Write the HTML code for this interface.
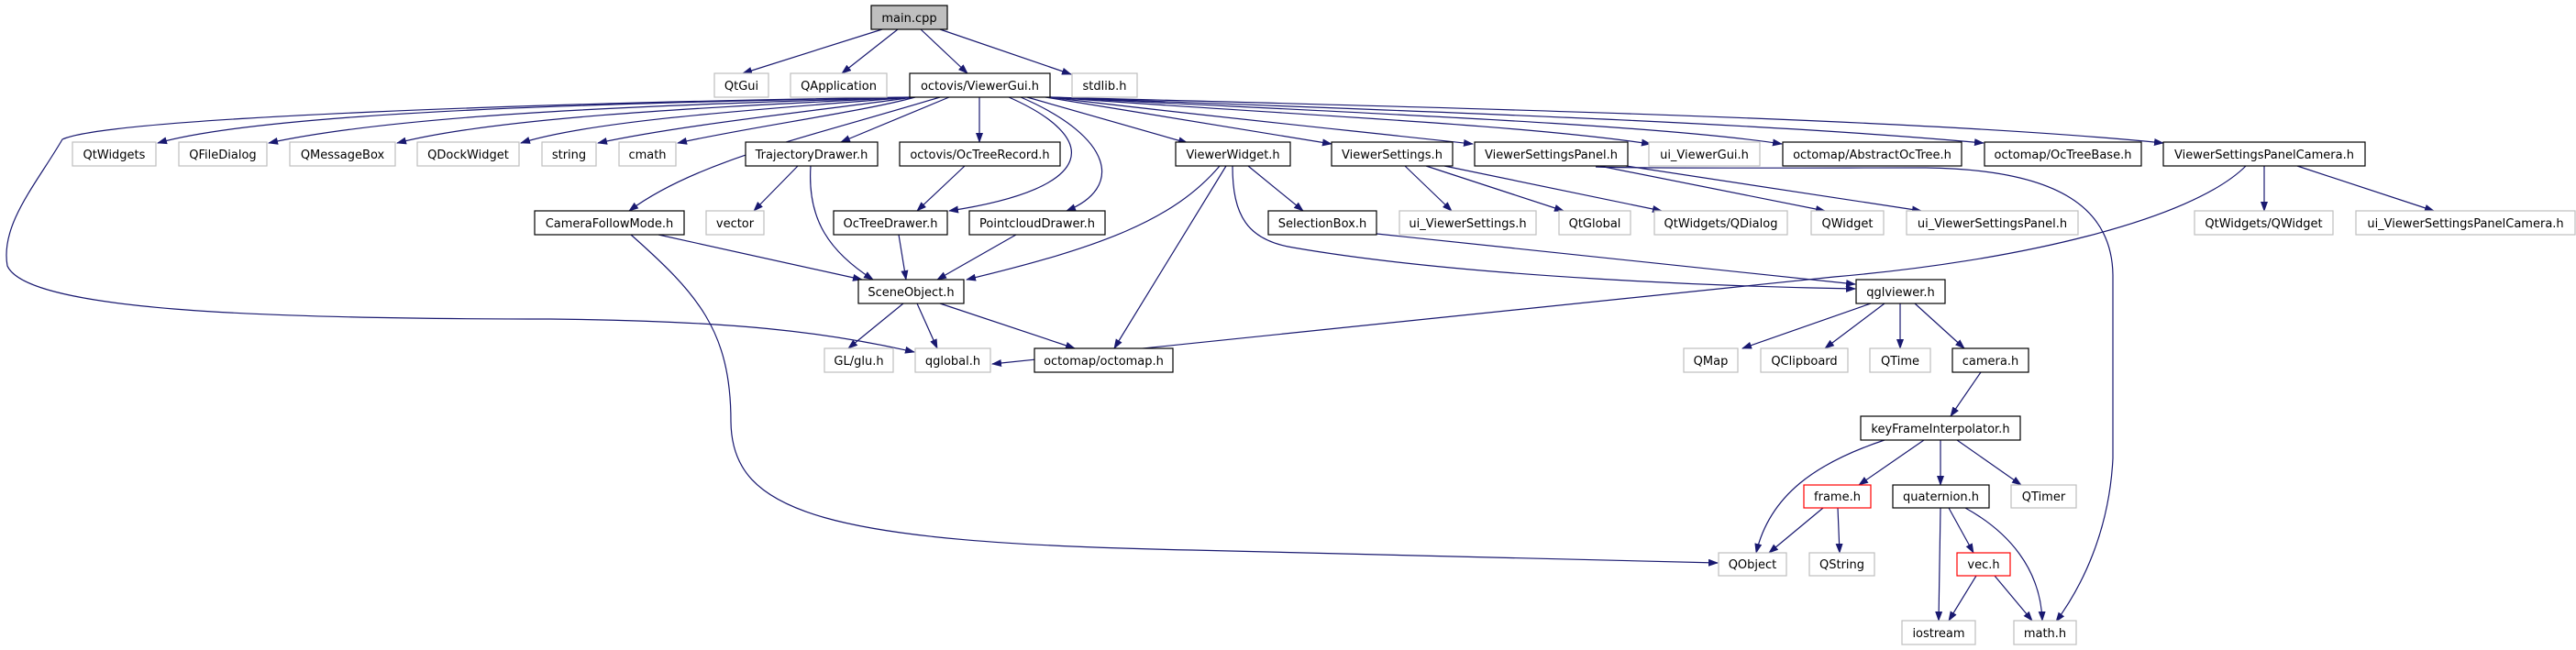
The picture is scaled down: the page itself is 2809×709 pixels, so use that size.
<!DOCTYPE html>
<html><head><meta charset="utf-8"><style>
html,body{margin:0;padding:0;background:#fff;}
svg{display:block;}
text{font-family:"DejaVu Sans","Liberation Sans",sans-serif;font-size:13px;fill:#000;text-anchor:middle;}
.b{fill:#fff;stroke:#000;stroke-width:1.2;}
.g{fill:#fff;stroke:#bfbfbf;stroke-width:1.2;}
.r{fill:#fff;stroke:#ff0000;stroke-width:1.2;}
.m{fill:#bfbfbf;stroke:#000;stroke-width:1.2;}
path{fill:none;stroke:#191970;stroke-width:1.2;marker-end:url(#a);}
</style></head><body>
<svg width="2809" height="709" viewBox="0 0 2809 709" xmlns="http://www.w3.org/2000/svg">
<defs><marker id="a" markerWidth="11" markerHeight="8" refX="10" refY="4" orient="auto" markerUnits="userSpaceOnUse"><polygon points="0,0 11,4 0,8" fill="#191970"/></marker></defs>
<!-- edges -->
<path d="M962,32 L810,80"/>
<path d="M979,32 L918,80"/>
<path d="M1004,32 L1055,80"/>
<path d="M1025,32 L1168,81"/>
<!-- ViewerGui to row2 left -->
<path d="M994,106 C700,112 300,120 172,156"/>
<path d="M994,106 C750,114 450,122 293,156"/>
<path d="M994,106 C800,116 550,126 433,156"/>
<path d="M994,106 C850,118 650,130 568,156"/>
<path d="M996,106 C900,120 750,135 652,156"/>
<path d="M998,106 C940,122 820,138 739,156"/>
<path d="M1035,106 L917,155"/>
<path d="M1068,106 L1068,155"/>
<path d="M1025,106 C880,150 760,175 686,230"/>
<path d="M1100,106 C1200,150 1200,205 1035,230"/>
<path d="M1113,106 C1215,150 1225,205 1163,230"/>
<path d="M1120,106 L1295,156"/>
<path d="M1140,106 L1452,157"/>
<path d="M1144,106 C1300,125 1450,140 1606,157"/>
<path d="M1145,106 C1400,125 1650,135 1800,157"/>
<path d="M1145,106 C1450,122 1800,135 1943,157"/>
<path d="M1145,106 C1500,120 1900,132 2163,156"/>
<path d="M1145,106 C1600,118 2100,130 2359,156"/>
<!-- qglobal long curve -->
<path d="M992,106 C600,112 120,128 68,152 C40,200 0,245 8,290 C30,340 300,348 600,348 C800,350 900,362 997,384"/>
<!-- row2 out -->
<path d="M870,181 L822,230"/>
<path d="M884,181 C880,240 905,275 952,305"/>
<path d="M1052,181 L1000,230"/>
<path d="M718,256 L940,305"/>
<path d="M688,256 C760,320 797,360 797,460 C798,560 900,592 1300,600 L1873,614"/>
<path d="M980,256 L988,305"/>
<path d="M1108,256 L1022,305"/>
<path d="M1330,181 C1280,240 1200,270 1054,305"/>
<path d="M1337,181 L1215,380"/>
<path d="M1344,181 C1344,235 1360,262 1410,270 C1600,303 1900,313 2023,315"/>
<path d="M1361,181 L1421,230"/>
<path d="M1501,255 L2023,310"/>
<path d="M1532,181 L1583,230"/>
<path d="M1555,181 L1705,230"/>
<path d="M1575,181 L1812,230"/>
<path d="M1744,181 L1990,230"/>
<path d="M1773,181 L2095,230"/>
<path d="M1740,182 C1780,184 2000,183 2100,183 C2250,185 2303,230 2304,300 L2304,500 C2300,580 2270,640 2242,678"/>
<path d="M2449,181 C2390,240 2200,285 2000,302 L1082,397"/>
<path d="M2469,181 L2469,230"/>
<path d="M2505,181 L2654,230"/>
<!-- SceneObject -->
<path d="M985,331 L925,380"/>
<path d="M1000,331 L1022,380"/>
<path d="M1025,331 L1172,380"/>
<!-- qglviewer -->
<path d="M2040,331 L1900,380"/>
<path d="M2055,331 L1990,380"/>
<path d="M2072,331 L2072,380"/>
<path d="M2088,331 L2142,380"/>
<path d="M2160,406 L2127,454"/>
<path d="M2055,480 C1980,505 1930,540 1915,603"/>
<path d="M2098,480 L2027,529"/>
<path d="M2116,480 L2116,529"/>
<path d="M2134,480 L2204,529"/>
<path d="M1988,554 L1929,603"/>
<path d="M2004,554 L2006,603"/>
<path d="M2116,554 L2114,677"/>
<path d="M2125,554 L2152,603"/>
<path d="M2143,554 C2190,580 2225,620 2227,677"/>
<path d="M2155,628 L2125,677"/>
<path d="M2175,628 L2216,677"/>
<!-- nodes -->
<rect class="m" x="950" y="6" width="83" height="26"/><text x="991.5" y="24">main.cpp</text>
<rect class="g" x="779" y="80" width="59" height="26"/><text x="808.5" y="98">QtGui</text>
<rect class="g" x="862" y="80" width="105" height="26"/><text x="914.5" y="98">QApplication</text>
<rect class="b" x="992" y="80" width="153" height="26"/><text x="1068.5" y="98">octovis/ViewerGui.h</text>
<rect class="g" x="1169" y="80" width="71" height="26"/><text x="1204.5" y="98">stdlib.h</text>

<rect class="g" x="79" y="155" width="91" height="26"/><text x="124.5" y="173">QtWidgets</text>
<rect class="g" x="195" y="155" width="96" height="26"/><text x="243" y="173">QFileDialog</text>
<rect class="g" x="316" y="155" width="115" height="26"/><text x="373.5" y="173">QMessageBox</text>
<rect class="g" x="455" y="155" width="111" height="26"/><text x="510.5" y="173">QDockWidget</text>
<rect class="g" x="591" y="155" width="59" height="26"/><text x="620.5" y="173">string</text>
<rect class="g" x="675" y="155" width="62" height="26"/><text x="706" y="173">cmath</text>
<rect class="b" x="813" y="155" width="144" height="26"/><text x="885" y="173">TrajectoryDrawer.h</text>
<rect class="b" x="981" y="155" width="175" height="26"/><text x="1068.5" y="173">octovis/OcTreeRecord.h</text>
<rect class="b" x="1282" y="155" width="125" height="26"/><text x="1344.5" y="173">ViewerWidget.h</text>
<rect class="b" x="1452" y="155" width="132" height="26"/><text x="1518" y="173">ViewerSettings.h</text>
<rect class="b" x="1608" y="155" width="167" height="26"/><text x="1691.5" y="173">ViewerSettingsPanel.h</text>
<rect class="g" x="1798" y="155" width="121" height="26"/><text x="1858.5" y="173">ui_ViewerGui.h</text>
<rect class="b" x="1944" y="155" width="195" height="26"/><text x="2041.5" y="173">octomap/AbstractOcTree.h</text>
<rect class="b" x="2164" y="155" width="171" height="26"/><text x="2249.5" y="173">octomap/OcTreeBase.h</text>
<rect class="b" x="2359" y="155" width="220" height="26"/><text x="2469" y="173">ViewerSettingsPanelCamera.h</text>

<rect class="b" x="583" y="230" width="163" height="26"/><text x="664.5" y="248">CameraFollowMode.h</text>
<rect class="g" x="770" y="230" width="63" height="26"/><text x="801.5" y="248">vector</text>
<rect class="b" x="909" y="230" width="124" height="26"/><text x="971" y="248">OcTreeDrawer.h</text>
<rect class="b" x="1057" y="230" width="148" height="26"/><text x="1131" y="248">PointcloudDrawer.h</text>
<rect class="b" x="1383" y="230" width="118" height="26"/><text x="1442" y="248">SelectionBox.h</text>
<rect class="g" x="1526" y="230" width="149" height="26"/><text x="1600.5" y="248">ui_ViewerSettings.h</text>
<rect class="g" x="1700" y="230" width="78" height="26"/><text x="1739" y="248">QtGlobal</text>
<rect class="g" x="1804" y="230" width="145" height="26"/><text x="1876.5" y="248">QtWidgets/QDialog</text>
<rect class="g" x="1975" y="230" width="79" height="26"/><text x="2014.5" y="248">QWidget</text>
<rect class="g" x="2079" y="230" width="187" height="26"/><text x="2172.5" y="248">ui_ViewerSettingsPanel.h</text>
<rect class="g" x="2393" y="230" width="151" height="26"/><text x="2468.5" y="248">QtWidgets/QWidget</text>
<rect class="g" x="2569" y="230" width="239" height="26"/><text x="2688.5" y="248">ui_ViewerSettingsPanelCamera.h</text>

<rect class="b" x="936" y="305" width="115" height="26"/><text x="993.5" y="323">SceneObject.h</text>
<rect class="b" x="2024" y="305" width="97" height="26"/><text x="2072.5" y="323">qglviewer.h</text>

<rect class="g" x="899" y="380" width="75" height="26"/><text x="936.5" y="398">GL/glu.h</text>
<rect class="g" x="998" y="380" width="82" height="26"/><text x="1039" y="398">qglobal.h</text>
<rect class="b" x="1128" y="380" width="151" height="26"/><text x="1203.5" y="398">octomap/octomap.h</text>
<rect class="g" x="1836" y="380" width="59" height="26"/><text x="1865.5" y="398">QMap</text>
<rect class="g" x="1920" y="380" width="95" height="26"/><text x="1967.5" y="398">QClipboard</text>
<rect class="g" x="2039" y="380" width="66" height="26"/><text x="2072" y="398">QTime</text>
<rect class="b" x="2129" y="380" width="83" height="26"/><text x="2170.5" y="398">camera.h</text>

<rect class="b" x="2029" y="454" width="174" height="26"/><text x="2116" y="472">keyFrameInterpolator.h</text>
<rect class="r" x="1967" y="529" width="73" height="25"/><text x="2003.5" y="546">frame.h</text>
<rect class="b" x="2064" y="529" width="105" height="25"/><text x="2116.5" y="546">quaternion.h</text>
<rect class="g" x="2193" y="529" width="71" height="25"/><text x="2228.5" y="546">QTimer</text>
<rect class="g" x="1874" y="603" width="74" height="25"/><text x="1911" y="620">QObject</text>
<rect class="g" x="1973" y="603" width="71" height="25"/><text x="2008.5" y="620">QString</text>
<rect class="r" x="2134" y="603" width="58" height="25"/><text x="2163" y="620">vec.h</text>
<rect class="g" x="2074" y="677" width="80" height="26"/><text x="2114" y="695">iostream</text>
<rect class="g" x="2196" y="677" width="68" height="26"/><text x="2230" y="695">math.h</text>
</svg>
</body></html>
